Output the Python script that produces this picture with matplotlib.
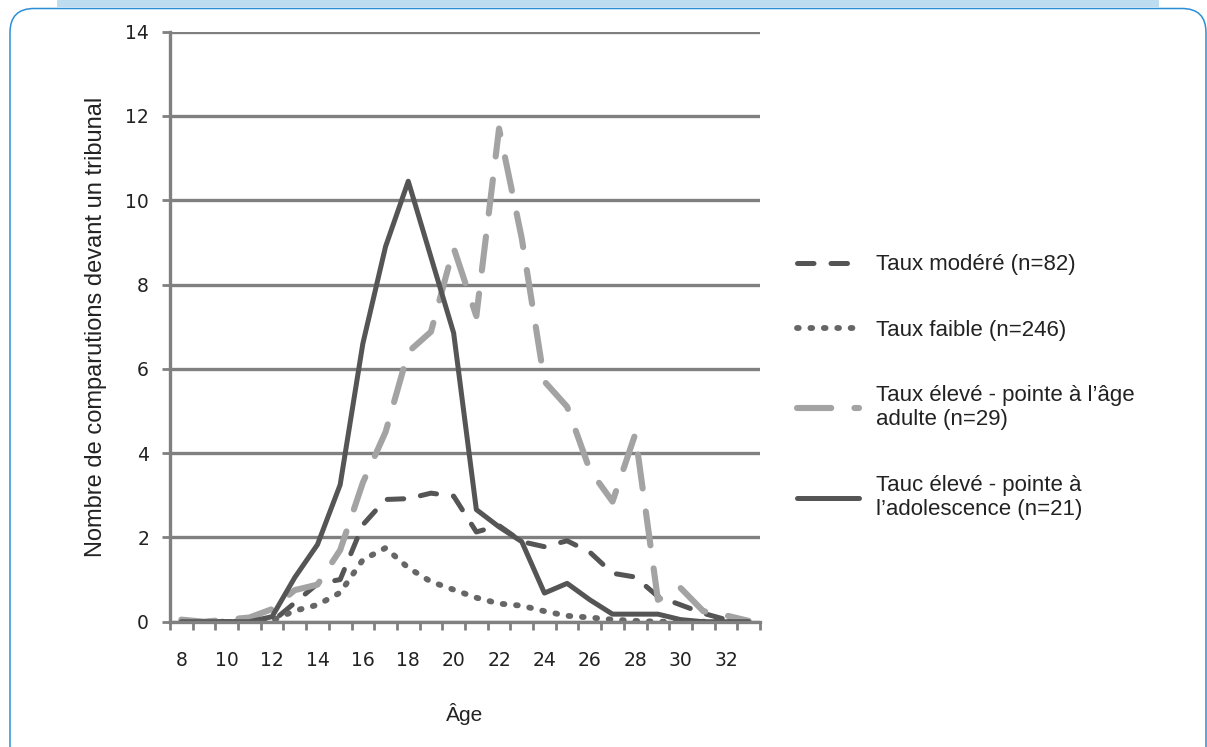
import numpy as np
import matplotlib.pyplot as plt
from matplotlib.patches import FancyBboxPatch, Rectangle
from matplotlib.transforms import IdentityTransform

ages = list(range(8, 34))
modere = [0, 0, 0, 0, 0, 0.45, 0.9, 1.0, 2.3, 2.9, 2.92, 3.05, 2.98, 2.13, 2.28, 1.9,
          1.78, 1.92, 1.65, 1.15, 1.06, 0.6, 0.4, 0.2, 0.05, 0]
faible = [0, 0, 0, 0, 0.03, 0.26, 0.4, 0.69, 1.47, 1.75, 1.28, 0.95, 0.76, 0.57, 0.43, 0.38,
          0.25, 0.14, 0.1, 0.05, 0.02, 0, 0, 0, 0, 0]
adulte = [0.05, 0, 0.05, 0.1, 0.3, 0.75, 0.88, 1.7, 3.3, 4.5, 6.4, 6.88, 8.87, 7.25, 11.7, 9.1,
          5.7, 5.1, 3.6, 2.85, 4.45, 0.52, 0.8, 0.25, 0.15, 0.02]
adolescence = [0, 0, 0, 0, 0.12, 1.05, 1.83, 3.25, 6.6, 8.9, 10.45, 8.65, 6.85, 2.66, 2.25, 1.9,
               0.68, 0.91, 0.52, 0.18, 0.18, 0.18, 0.05, 0, 0, 0]
labels = ["Taux modéré (n=82)",
          "Taux faible (n=246)",
          "Taux élevé - pointe à l’âge\nadulte (n=29)",
          "Tauc élevé - pointe à\nl’adolescence (n=21)"]
xtick_ages = list(range(8, 33, 2))
yticks = list(range(0, 15, 2))

grey = "#808080"
sans = "Liberation Sans"

fig = plt.figure(figsize=(12.07, 7.47), dpi=100)

# blue frame around the figure
fig.add_artist(Rectangle((57, 740), 1102, 8, transform=IdentityTransform(),
                         facecolor="#bddcf0", edgecolor="none"))
fig.add_artist(FancyBboxPatch((10, -40), 1196, 778.5, boxstyle="round,pad=0,rounding_size=24",
                              transform=IdentityTransform(), fill=False,
                              edgecolor="#2b8fd6", lw=1.1))

ax = fig.add_axes([0.1408, 0.1677, 0.4889, 0.79])

ax.plot(ages, modere, color="#555555", lw=3.6, dashes=(3.3, 3.4),
        dash_capstyle="round", label=labels[0])
ax.plot(ages, faible, color="#666666", lw=4.2, dashes=(0.3, 2.0),
        dash_capstyle="round", label=labels[1])
ax.plot(ages, adulte, color="#a3a3a3", lw=4.4, dashes=(5.6, 3.8),
        dash_capstyle="round", label=labels[2])
ax.plot(ages, adolescence, color="#555555", lw=3.6, solid_capstyle="round",
        solid_joinstyle="round", label=labels[3])

ax.set_ylim(0, 14)
ax.set_xlim(7.5, 33.5)
ax.set_yticks(yticks)
ax.set_xticks(xtick_ages)
ax.set_xticks(np.arange(7.5, 33.6, 1), minor=True)
ax.yaxis.grid(True, color=grey, lw=2.4)
ax.set_axisbelow(True)

for s in ["top", "right"]:
    ax.spines[s].set_visible(False)
for s in ["left", "bottom"]:
    ax.spines[s].set_color(grey)
    ax.spines[s].set_linewidth(2.4)

ax.tick_params(axis="y", length=6, width=2, color=grey, pad=9, labelsize=13.5, labelcolor="#222222")
ax.tick_params(axis="x", which="major", length=0, pad=21, labelsize=13.5, labelcolor="#222222")
ax.tick_params(axis="x", which="minor", length=6, width=2, color=grey)

ax.set_xlabel("Âge", fontsize=15, family=sans, labelpad=24, color="#222222")
ax.set_ylabel("Nombre de comparutions devant un tribunal", fontsize=17, family=sans,
              labelpad=13, color="#222222")

leg = ax.legend(loc="upper left", bbox_to_anchor=(1.0627, 0.6225), frameon=False,
                prop={"family": sans, "size": 16}, handlelength=2.8, handletextpad=0.75,
                labelspacing=2.0, borderpad=0, borderaxespad=0)
for t in leg.get_texts():
    t.set_linespacing(1.2)
    t.set_color("#222222")

fig.savefig("out.png", dpi=100)
